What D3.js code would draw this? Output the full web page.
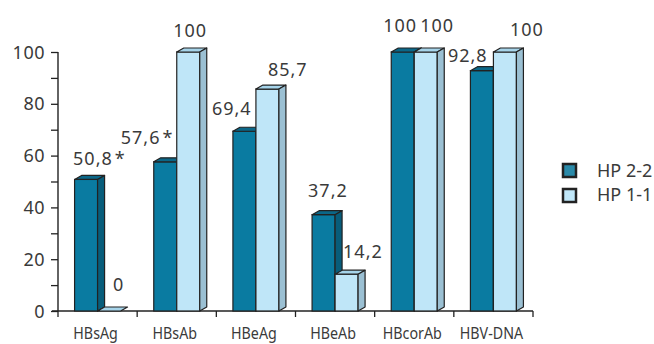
<!DOCTYPE html>
<html>
<head>
<meta charset="utf-8">
<script src="https://cdn.jsdelivr.net/npm/d3@7"></script>
<style>
  html, body { margin: 0; padding: 0; background: #fff; }
  svg { display: block; font-family: "Noto Sans", "DejaVu Sans", sans-serif; }
</style>
</head>
<body>
<svg id="chart" width="654" height="344"></svg>
<script>
// Markers grouped by category, two haptoglobin phenotypes
const categories = ["HBsAg", "HBsAb", "HBeAg", "HBeAb", "HBcorAb", "HBV-DNA"];
const seriesNames = ["HP 2-2", "HP 1-1"];
const hp22 = [50.8, 57.6, 69.4, 37.2, 100, 92.8];
const hp11 = [0, 100, 85.7, 14.2, 100, 100];
const hp22Labels = ["50,8", "57,6", "69,4", "37,2", "100", "92,8"];
const hp11Labels = ["0", "100", "85,7", "14,2", "100", "100"];
const hp22Starred = [true, true, false, false, false, false];
const yTicks = [0, 20, 40, 60, 80, 100];

// Hand-placed label nudges (dx, dy) relative to each bar's top-left corner
const hp22Nudge = [[-1.5, -14], [-33, -18], [-21, -16], [-4, -18], [-8, -20], [-22.5, -8.5]];
const hp11Nudge = [[15.5, -20], [-3.5, -15], [12, -13], [8, -16], [6, -20], [16.5, -16]];

const palette = {
  dark:  { front: "#0a7ba1", top: "#0b6788", side: "#085d7b" },
  light: { front: "#bfe6f8", top: "#a6d4ea", side: "#9bc0d3" }
};
const legendFill = ["#2a8aa9", "#c0e7f9"];
const stroke = "#222";
const textColor = "#3a3a3a";

const svg = d3.select("#chart");
const x0 = 58, x1 = 533, yBase = 311, yTop = 52;
const barW = 23, depthX = 7, depthY = 4;

const x = d3.scaleBand().domain(categories).range([x0, x1]).padding(0);
const y = d3.scaleLinear().domain([0, 100]).range([yBase, yTop]);

// axes
const yAxis = d3.axisLeft(y).tickValues(d3.range(0, 101, 10)).tickSize(7).tickFormat("");
const gy = svg.append("g").attr("transform", `translate(${x0},0)`).call(yAxis);
gy.select(".domain").remove();
gy.selectAll(".tick line").attr("stroke", stroke).attr("stroke-width", 1.3);

svg.append("g").selectAll("text").data(yTicks).join("text")
  .attr("x", 45).attr("y", d => y(d) + 6.5)
  .attr("text-anchor", "end")
  .attr("font-size", 18).attr("letter-spacing", 0.5)
  .attr("fill", textColor)
  .text(d => d);

svg.append("line").attr("x1", x0).attr("x2", x0).attr("y1", yTop).attr("y2", yBase)
  .attr("stroke", stroke).attr("stroke-width", 1.4);
svg.append("line").attr("x1", x0 - 6).attr("x2", x1).attr("y1", yBase).attr("y2", yBase)
  .attr("stroke", stroke).attr("stroke-width", 1.4);

// category ticks along the baseline
const edges = categories.map(c => x(c)).concat([x1]);
svg.append("g").selectAll("line").data(edges).join("line")
  .attr("x1", d => d).attr("x2", d => d)
  .attr("y1", yBase).attr("y2", yBase + 6)
  .attr("stroke", stroke).attr("stroke-width", 1.3);

svg.append("g").selectAll("text").data(categories).join("text")
  .attr("transform", c => `translate(${x(c) + x.bandwidth() / 2 - 2},338.5) scale(0.84,1)`)
  .attr("text-anchor", "middle")
  .attr("font-size", 17)
  .attr("fill", textColor)
  .text(c => c);

// 3D bars
function drawBar(g, bx, v, col) {
  const yv = y(v), y0 = y(0);
  g.append("rect").attr("x", bx).attr("y", yv).attr("width", barW).attr("height", y0 - yv)
    .attr("fill", col.front).attr("stroke", stroke).attr("stroke-width", 1.2);
  g.append("path")
    .attr("d", `M${bx},${yv}L${bx + depthX},${yv - depthY}L${bx + barW + depthX},${yv - depthY}L${bx + barW},${yv}Z`)
    .attr("fill", col.top).attr("stroke", stroke).attr("stroke-width", 1.2).attr("stroke-linejoin", "round");
  if (v > 0) {
    g.append("path")
      .attr("d", `M${bx + barW},${yv}L${bx + barW + depthX},${yv - depthY}L${bx + barW + depthX},${y0 - depthY}L${bx + barW},${y0}Z`)
      .attr("fill", col.side).attr("stroke", stroke).attr("stroke-width", 1.2).attr("stroke-linejoin", "round");
  }
}

const bars = svg.append("g");
const labels = svg.append("g").attr("font-size", 18).attr("letter-spacing", 1).attr("fill", textColor);

categories.forEach((c, i) => {
  const cx = x(c) + x.bandwidth() / 2;
  const g = bars.append("g");
  const darkX = cx - barW, lightX = cx;
  drawBar(g, darkX, hp22[i], palette.dark);
  drawBar(g, lightX, hp11[i], palette.light);

  const t1 = labels.append("text")
    .attr("x", darkX + hp22Nudge[i][0]).attr("y", y(hp22[i]) + hp22Nudge[i][1])
    .text(hp22Labels[i]);
  if (hp22Starred[i]) t1.append("tspan").attr("dx", 2).text("*");
  labels.append("text")
    .attr("x", lightX + hp11Nudge[i][0]).attr("y", y(hp11[i]) + hp11Nudge[i][1])
    .text(hp11Labels[i]);
});

// legend
const legend = svg.append("g");
seriesNames.forEach((name, i) => {
  legend.append("rect").attr("x", 563).attr("y", 164 + i * 25).attr("width", 13).attr("height", 13)
    .attr("fill", legendFill[i]).attr("stroke", stroke).attr("stroke-width", 2.5);
  legend.append("text").attr("x", 597).attr("y", 176.5 + i * 24)
    .attr("font-size", 18).attr("fill", textColor).text(name);
});
</script>
</body>
</html>
